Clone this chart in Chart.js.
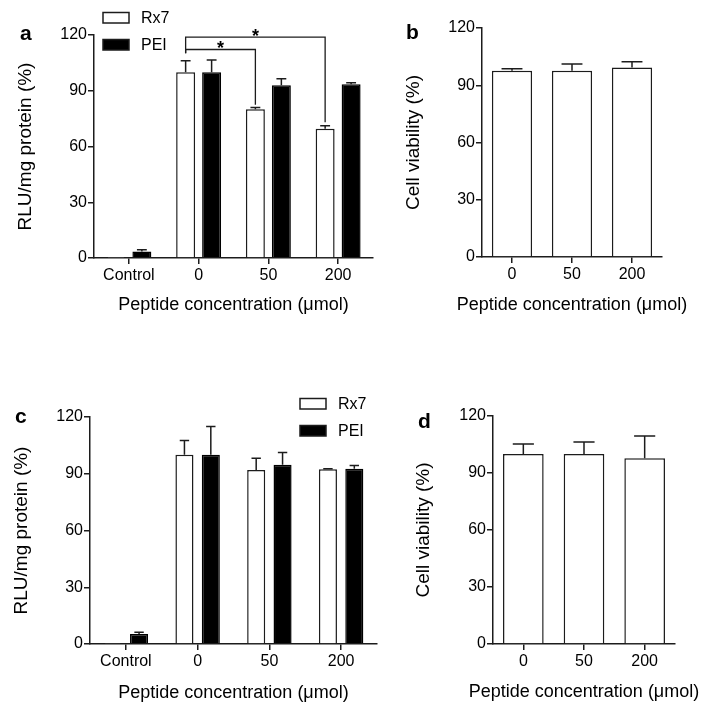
<!DOCTYPE html>
<html>
<head>
<meta charset="utf-8">
<script src="https://cdn.jsdelivr.net/npm/chart.js@4.4.0/dist/chart.umd.min.js"></script>
<style>
  html, body { margin: 0; padding: 0; background: #fff; }
  #wrap { position: relative; width: 714px; height: 714px; overflow: hidden; }
  canvas { position: absolute; }
</style>
</head>
<body>
<div id="wrap">
  <canvas id="chartA" width="380" height="330" style="left:0;top:0"></canvas>
  <canvas id="chartB" width="334" height="330" style="left:380px;top:0"></canvas>
  <canvas id="chartC" width="380" height="384" style="left:0;top:330px"></canvas>
  <canvas id="chartD" width="334" height="384" style="left:380px;top:330px"></canvas>
</div>
<script>
// categories
const groupsAC = ['Control', '0', '50', '200'];
const groupsBD = ['0', '50', '200'];
const yTicks = [0, 30, 60, 90, 120];

// panel a: transfection (mean, upper SD)
const rx7A = [0.2, 100, 80, 69.5];
const rx7AErr = [0, 6.2, 1, 1.7];
const peiA = [3.5, 100, 93, 93.5];
const peiAErr = [1, 6.6, 3.5, 0.8];

// panel b: cell viability
const viabB = [97.6, 97.6, 99.3];
const viabBErr = [1, 3.5, 3];

// panel c: transfection
const rx7C = [0.2, 100, 92, 92.4];
const rx7CErr = [0, 7.6, 6.2, 0.3];
const peiC = [5.3, 100, 94.8, 92.7];
const peiCErr = [0.9, 15, 6.4, 1.6];

// panel d: cell viability
const viabD = [100, 100, 97.7];
const viabDErr = [5.3, 6.3, 11.8];

// significance brackets in panel a (category indexes, values in %)
const bracketsA = [
  { from: 1, to: 2, level: 112.2, leftEnd: 110.2, rightEnd: 82.5 },
  { from: 1, to: 3, level: 118.9, leftEnd: 110.2, rightEnd: 73 }
];

const FONT = '"Liberation Sans", Arial, sans-serif';
const INK = '#1c1c1c';
const X_TITLE = 'Peptide concentration (\u03bcmol)';

// error bars (upper only, like the GraphPad original)
const errorBars = {
  id: 'errorBars',
  afterDatasetsDraw(chart) {
    const ctx = chart.ctx;
    const y = chart.scales.y;
    chart.data.datasets.forEach((ds, i) => {
      if (!ds.errors) return;
      chart.getDatasetMeta(i).data.forEach((bar, j) => {
        const err = ds.errors[j];
        if (!err) return;
        const top = y.getPixelForValue(ds.data[j] + err);
        const cap = bar.width * 0.26;
        ctx.save();
        ctx.strokeStyle = INK;
        ctx.lineWidth = 1.5;
        ctx.beginPath();
        ctx.moveTo(bar.x, bar.y);
        ctx.lineTo(bar.x, top);
        ctx.moveTo(bar.x - cap, top);
        ctx.lineTo(bar.x + cap, top);
        ctx.stroke();
        ctx.restore();
      });
    });
  }
};

// panel letter, x title, legend and brackets
const panelDecor = {
  id: 'panelDecor',
  afterDraw(chart, args, opts) {
    const ctx = chart.ctx;
    const y = chart.scales.y;
    const area = chart.chartArea;
    ctx.save();
    ctx.fillStyle = '#000';
    ctx.font = 'bold 21px ' + FONT;
    ctx.textBaseline = 'alphabetic';
    ctx.textAlign = 'left';
    ctx.fillText(opts.letter, opts.letterX, opts.letterY);

    // x title drawn here so it may run wider than the narrow axis
    ctx.font = '18px ' + FONT;
    ctx.textAlign = 'center';
    ctx.textBaseline = 'middle';
    ctx.fillText(X_TITLE, (area.left + area.right) / 2, opts.xTitleY);

    if (opts.legend) {
      const lg = opts.legend;
      ctx.font = '16px ' + FONT;
      ctx.textAlign = 'left';
      ctx.textBaseline = 'middle';
      chart.data.datasets.forEach((ds, i) => {
        const by = lg.y + i * 27;
        ctx.fillStyle = ds.backgroundColor;
        ctx.fillRect(lg.x, by, 26, 10.5);
        ctx.strokeStyle = INK;
        ctx.lineWidth = 1.5;
        ctx.strokeRect(lg.x, by, 26, 10.5);
        ctx.fillStyle = '#000';
        ctx.fillText(ds.label, lg.x + 38, by + 6);
      });
    }

    (opts.brackets || []).forEach(b => {
      const bars = chart.getDatasetMeta(0).data;
      const x1 = bars[b.from].x, x2 = bars[b.to].x;
      const yl = y.getPixelForValue(b.level);
      ctx.strokeStyle = INK;
      ctx.lineWidth = 1.3;
      ctx.beginPath();
      ctx.moveTo(x1, y.getPixelForValue(b.leftEnd));
      ctx.lineTo(x1, yl);
      ctx.lineTo(x2, yl);
      ctx.lineTo(x2, y.getPixelForValue(b.rightEnd));
      ctx.stroke();
      ctx.fillStyle = '#000';
      ctx.font = 'bold 18px ' + FONT;
      ctx.textAlign = 'center';
      ctx.textBaseline = 'alphabetic';
      ctx.fillText('*', (x1 + x2) / 2, yl + 5);
    });
    ctx.restore();
  }
};

function buildPanel(canvasId, p) {
  return new Chart(document.getElementById(canvasId), {
    type: 'bar',
    data: { labels: p.labels, datasets: p.datasets },
    options: {
      responsive: false,
      animation: false,
      devicePixelRatio: 1,
      layout: { padding: { left: 0, top: p.top, right: p.right, bottom: 0 } },
      plugins: {
        legend: { display: false },
        tooltip: { enabled: false },
        panelDecor: p.decor
      },
      scales: {
        x: {
          afterFit: s => { s.height = p.xHeight; },
          border: { color: INK, width: 1.5 },
          grid: { offset: false, drawOnChartArea: false, color: INK, lineWidth: 1.5, tickLength: 6 },
          ticks: { color: '#000', padding: 2, font: { family: FONT, size: 16 } }
        },
        y: {
          min: 0,
          max: 120,
          afterFit: s => { s.width = p.yWidth; },
          afterBuildTicks: s => { s.ticks = yTicks.map(v => ({ value: v })); },
          border: { color: INK, width: 1.5 },
          grid: { drawOnChartArea: false, color: INK, lineWidth: 1.5, tickLength: 6 },
          ticks: { color: '#000', padding: 1, font: { family: FONT, size: 16 } },
          title: {
            display: true,
            text: p.yTitle,
            color: '#000',
            font: { family: FONT, size: 19 },
            padding: { top: p.yTitlePad }
          }
        }
      }
    },
    plugins: [errorBars, panelDecor]
  });
}

function pairSets(rx7, rx7Err, pei, peiErr, catPct, barPct) {
  return [{
    label: 'Rx7', data: rx7, errors: rx7Err,
    backgroundColor: '#ffffff', borderColor: INK, borderWidth: 1.5,
    categoryPercentage: catPct, barPercentage: barPct
  }, {
    label: 'PEI', data: pei, errors: peiErr,
    backgroundColor: '#000000', borderColor: '#000000', borderWidth: 1.5,
    categoryPercentage: catPct, barPercentage: barPct
  }];
}

function singleSet(vals, errs) {
  return [{
    label: 'Viability', data: vals, errors: errs,
    backgroundColor: '#ffffff', borderColor: INK, borderWidth: 1.5,
    categoryPercentage: 1, barPercentage: 0.67
  }];
}

// a
buildPanel('chartA', {
  labels: groupsAC,
  datasets: pairSets(rx7A, rx7AErr, peiA, peiAErr, 0.745, 0.73),
  top: 35, right: 7, yWidth: 94, xHeight: 72,
  yTitlePad: 14.4,
  yTitle: 'RLU/mg protein (%)',
  decor: { letter: 'a', letterX: 20, letterY: 40, xTitleY: 305, legend: { x: 103, y: 12.5 }, brackets: bracketsA }
});

// b
buildPanel('chartB', {
  labels: groupsBD,
  datasets: singleSet(viabB, viabBErr),
  top: 28, right: 52, yWidth: 102, xHeight: 73,
  yTitlePad: 22.6,
  yTitle: 'Cell viability (%)',
  decor: { letter: 'b', letterX: 26, letterY: 39, xTitleY: 305 }
});

// c
buildPanel('chartC', {
  labels: groupsAC,
  datasets: pairSets(rx7C, rx7CErr, peiC, peiCErr, 0.735, 0.685),
  top: 87, right: 3, yWidth: 90, xHeight: 70,
  yTitlePad: 10.6,
  yTitle: 'RLU/mg protein (%)',
  decor: { letter: 'c', letterX: 15, letterY: 93, xTitleY: 363, legend: { x: 300, y: 68.5 } }
});

// d
buildPanel('chartD', {
  labels: groupsBD,
  datasets: singleSet(viabD, viabDErr),
  top: 86, right: 39, yWidth: 113, xHeight: 70,
  yTitlePad: 32.1,
  yTitle: 'Cell viability (%)',
  decor: { letter: 'd', letterX: 38, letterY: 98, xTitleY: 361.7 }
});
</script>
</body>
</html>
